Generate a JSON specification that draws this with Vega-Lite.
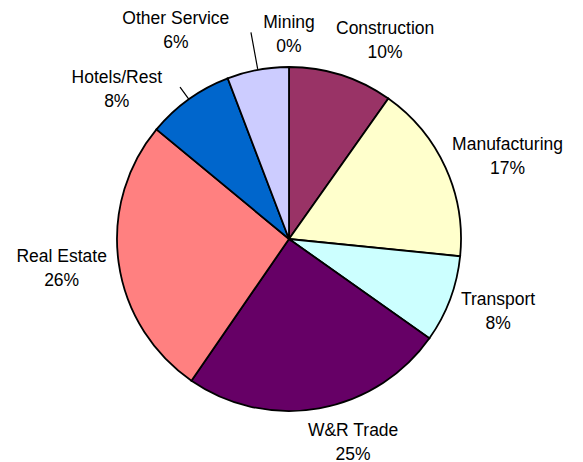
{
  "$schema": "https://vega.github.io/schema/vega-lite/v6.json",
  "width": 578,
  "height": 446,
  "autosize": "none",
  "padding": {"left": 0, "top": 16, "right": 5, "bottom": 0},
  "background": "white",
  "config": {"view": {"stroke": null}, "text": {"font": "Liberation Sans", "fontSize": 17.5, "fill": "black", "lineHeight": 24}},
  "data": {"values": [
    {"idx": 0, "sector": "Mining", "share": 0, "pct": "0%"},
    {"idx": 1, "sector": "Construction", "share": 9.8, "pct": "10%"},
    {"idx": 2, "sector": "Manufacturing", "share": 16.8, "pct": "17%"},
    {"idx": 3, "sector": "Transport", "share": 8.2, "pct": "8%"},
    {"idx": 4, "sector": "W&R Trade", "share": 24.8, "pct": "25%"},
    {"idx": 5, "sector": "Real Estate", "share": 26.4, "pct": "26%"},
    {"idx": 6, "sector": "Hotels/Rest", "share": 8.2, "pct": "8%"},
    {"idx": 7, "sector": "Other Service", "share": 5.8, "pct": "6%"}
  ]},
  "transform": [
    {"stack": "share", "groupby": [], "sort": [{"field": "idx"}], "as": ["s0", "s1"]},
    {"calculate": "(datum.s0 + datum.s1) / 2", "as": "mid"},
    {"calculate": "datum.sector + '\\n' + datum.pct", "as": "lbl"}
  ],
  "layer": [
    {
      "mark": {"type": "arc", "outerRadius": 172, "stroke": "black", "strokeWidth": 1.8},
      "encoding": {
        "theta": {"field": "s0", "type": "quantitative", "scale": {"domain": [0, 100]}},
        "theta2": {"field": "s1"},
        "color": {"field": "sector", "type": "nominal", "legend": null,
          "scale": {"domain": ["Mining", "Construction", "Manufacturing", "Transport", "W&R Trade", "Real Estate", "Hotels/Rest", "Other Service"],
                    "range": ["#9999FF", "#993366", "#FFFFCC", "#CCFFFF", "#660066", "#FF8080", "#0066CC", "#CCCCFF"]}}
      }
    },
    {"transform": [{"filter": "datum.idx == 7"}], "mark": {"type": "arc", "innerRadius": 173, "outerRadius": 210, "fill": null, "stroke": "black", "strokeWidth": 1.2},
     "encoding": {"theta": {"field": "mid", "type": "quantitative"}, "theta2": {"field": "mid"}}},
    {"transform": [{"filter": "datum.idx == 6"}], "mark": {"type": "arc", "innerRadius": 172, "outerRadius": 187, "fill": null, "stroke": "black", "strokeWidth": 1.2},
     "encoding": {"theta": {"field": "mid", "type": "quantitative"}, "theta2": {"field": "mid"}}},
    {"transform": [{"filter": "datum.idx == 0"}], "mark": {"type": "text", "radius": 172, "lineBreak": "\n", "dx": 0, "dy": -44},
     "encoding": {"theta": {"field": "mid", "type": "quantitative"}, "text": {"field": "lbl"}}},
    {"transform": [{"filter": "datum.idx == 1"}], "mark": {"type": "text", "radius": 172, "lineBreak": "\n", "dx": 44, "dy": -46},
     "encoding": {"theta": {"field": "mid", "type": "quantitative"}, "text": {"field": "lbl"}}},
    {"transform": [{"filter": "datum.idx == 2"}], "mark": {"type": "text", "radius": 172, "lineBreak": "\n", "dx": 62, "dy": -23},
     "encoding": {"theta": {"field": "mid", "type": "quantitative"}, "text": {"field": "lbl"}}},
    {"transform": [{"filter": "datum.idx == 3"}], "mark": {"type": "text", "radius": 172, "lineBreak": "\n", "dx": 48, "dy": 1},
     "encoding": {"theta": {"field": "mid", "type": "quantitative"}, "text": {"field": "lbl"}}},
    {"transform": [{"filter": "datum.idx == 4"}], "mark": {"type": "text", "radius": 172, "lineBreak": "\n", "dx": 34, "dy": 23},
     "encoding": {"theta": {"field": "mid", "type": "quantitative"}, "text": {"field": "lbl"}}},
    {"transform": [{"filter": "datum.idx == 5"}], "mark": {"type": "text", "radius": 172, "lineBreak": "\n", "dx": -57, "dy": -6},
     "encoding": {"theta": {"field": "mid", "type": "quantitative"}, "text": {"field": "lbl"}}},
    {"transform": [{"filter": "datum.idx == 6"}], "mark": {"type": "text", "radius": 172, "lineBreak": "\n", "dx": -72, "dy": -21},
     "encoding": {"theta": {"field": "mid", "type": "quantitative"}, "text": {"field": "lbl"}}},
    {"transform": [{"filter": "datum.idx == 7"}], "mark": {"type": "text", "radius": 172, "lineBreak": "\n", "dx": -82, "dy": -51},
     "encoding": {"theta": {"field": "mid", "type": "quantitative"}, "text": {"field": "lbl"}}}
  ]
}
